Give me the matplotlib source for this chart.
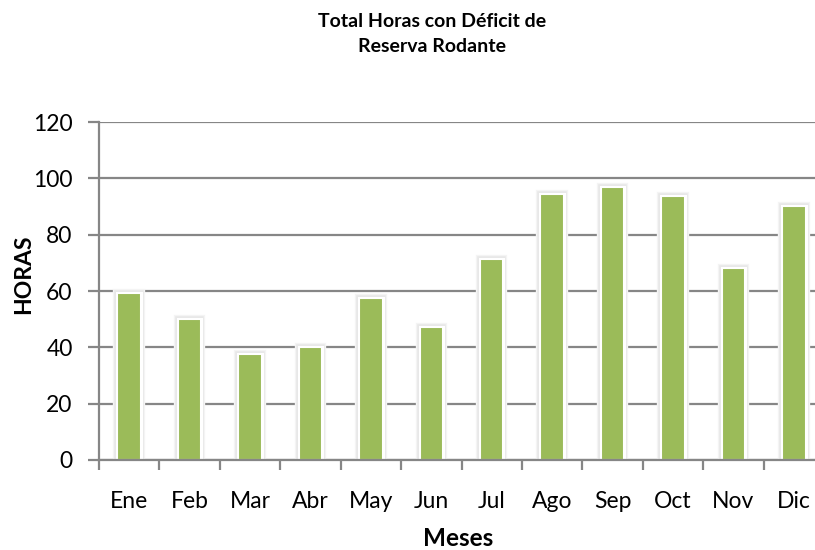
import matplotlib
matplotlib.use("Agg")
import matplotlib.pyplot as plt
import matplotlib.patheffects as pe
import numpy as np

meses = ["Ene", "Feb", "Mar", "Abr", "May", "Jun", "Jul", "Ago", "Sep", "Oct", "Nov", "Dic"]
horas = [59.3, 50.0, 37.6, 40.1, 57.5, 47.2, 71.3, 94.4, 96.9, 93.7, 68.2, 90.2]

plt.rcParams['font.family'] = ['Lato', 'DejaVu Sans']

fig = plt.figure(figsize=(8.15, 5.5), dpi=100)
ax = fig.add_axes([99/815, 90/550, 725/815, 338/550])

x = np.arange(len(meses))
bars = ax.bar(x, horas, width=0.39, color='#9BBB59', edgecolor='white', linewidth=1.5, zorder=3)
# soft glow around the bars, like the office-style shadow
for b in bars:
    b.set_path_effects([pe.Stroke(linewidth=6, foreground='#f4f4f4'),
                        pe.Stroke(linewidth=4, foreground='#e8e8e8'),
                        pe.Stroke(linewidth=2.2, foreground='white'),
                        pe.Normal()])

ax.set_xlim(-0.5, len(meses) - 0.5)
ax.set_ylim(0, 120)
ax.set_yticks(np.arange(0, 121, 20))
ax.yaxis.grid(True, color='#868686', linewidth=1.6, zorder=0)
ax.set_axisbelow(True)

ax.set_xticks(x)
ax.set_xticklabels(meses)
ax.set_xticks(np.arange(-0.5, len(meses), 1.0), minor=True)
ax.tick_params(axis='x', which='major', length=0, pad=22, labelsize=16.5)
ax.tick_params(axis='x', which='minor', length=7, width=1.6, color='#868686', direction='out')
ax.tick_params(axis='y', length=8, width=1.6, color='#868686', pad=11, labelsize=16.5)

for s in ['top', 'right']:
    ax.spines[s].set_visible(False)
for s in ['left', 'bottom']:
    ax.spines[s].set_color('#868686')
    ax.spines[s].set_linewidth(1.6)
    ax.spines[s].set_zorder(4)

fig.text(24/815, 1 - 274/550, "HORAS", rotation=90, ha='center', va='center',
         fontsize=16.5, fontweight='bold')
fig.text(458/815, 1 - 539/550, "Meses", ha='center', va='center',
         fontsize=17.5, fontweight='bold')

fig.text(432/815, 1 - 34/550, "Total Horas con Déficit de\nReserva Rodante", ha='center', va='center',
         fontsize=14, fontweight='bold', linespacing=1.55)

fig.savefig("out.png", dpi=100)
